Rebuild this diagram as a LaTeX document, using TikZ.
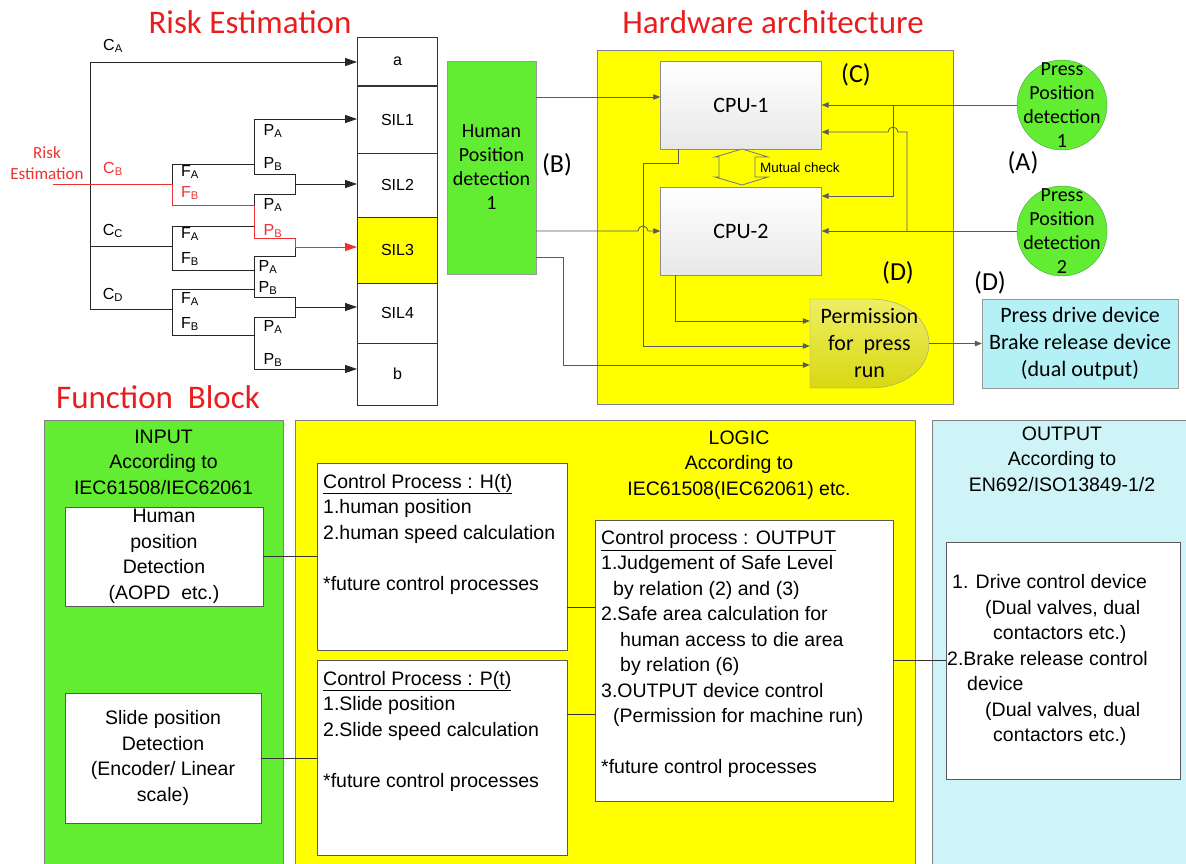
\documentclass[tikz,border=0pt]{standalone}
\usepackage{fontspec}
\setmainfont{Carlito}
\newfontfamily\gothic{Liberation Sans}
\usetikzlibrary{positioning,arrows.meta}
\definecolor{titlered}{RGB}{232,30,30}
\definecolor{riskred}{RGB}{238,50,50}
\definecolor{detgreen}{RGB}{98,236,50}
\definecolor{hwyellow}{RGB}{255,255,0}
\definecolor{outcyan}{RGB}{206,244,248}
\definecolor{devcyan}{RGB}{180,241,247}
\definecolor{wiregray}{RGB}{90,90,90}
\definecolor{framegray}{RGB}{128,128,150}
\definecolor{permlight}{RGB}{238,238,100}
\definecolor{permdark}{RGB}{216,216,18}
\tikzset{
  headline/.style={
    text=titlered,
    font=\fontsize{33}{36}\selectfont,
    inner sep=0pt
  },
  riskline/.style={draw=black!85, line width=0.9pt},
  riskarrow/.style={riskline, -{Triangle[length=12pt,width=8pt]}},
  redline/.style={draw=riskred, line width=0.9pt},
  redarrow/.style={redline, -{Triangle[length=12pt,width=8pt]}},
  risklbl/.style={font=\gothic\fontsize{16}{18}\selectfont, inner sep=0pt},
  silbox/.style={
    draw=black!80,
    line width=0.9pt,
    fill=white,
    minimum width=80pt,
    inner sep=0pt,
    font=\gothic\fontsize{16}{18}\selectfont
  },
  hwtext/.style={font=\fontsize{20}{24}\selectfont, align=center, inner sep=0pt},
  tag/.style={font=\fontsize{26}{30}\selectfont, inner sep=0pt},
  wire/.style={draw=wiregray, line width=0.8pt},
  wirearrow/.style={wire, -{Triangle[length=7pt,width=5.5pt]}},
  cpubox/.style={
    draw=black!45,
    top color=white,
    bottom color=black!9,
    minimum width=161pt,
    minimum height=88pt,
    font=\fontsize{22}{26}\selectfont
  },
  humanbox/.style={
    hwtext,
    draw=black!40,
    fill=detgreen,
    minimum width=89pt,
    minimum height=213pt
  },
  detcircle/.style={
    circle,
    draw=green!45!black!70,
    fill=detgreen,
    minimum size=90pt,
    inner sep=0pt
  },
  devbox/.style={
    hwtext,
    draw=black!40,
    fill=devcyan,
    minimum width=196pt,
    minimum height=89pt,
    font=\fontsize{22}{27}\selectfont
  },
  panel/.style={draw=black!50, line width=0.8pt, minimum height=446pt, inner sep=0pt},
  bodytext/.style={font=\gothic\fontsize{19.5}{25.5}\selectfont, align=left, inner sep=0pt},
  headtext/.style={bodytext, align=center},
  whitebox/.style={draw=black!65, line width=0.9pt, fill=white, inner sep=0pt},
  link/.style={draw=black!80, line width=0.9pt}
}
\begin{document}
\begin{tikzpicture}[x=1pt, y=-1pt]
  \useasboundingbox[fill=white] (0,0) rectangle (1186,863);

  % Titles
  \node[headline] (ttlrisk) at (250,22) {Risk Estimation};
  \node[headline] (ttlhw) at (773,22) {Hardware architecture};
  \node[headline] (ttlfb) at (158,397) {Function\ \ Block};

  % SIL column
  \node[silbox, minimum height=48pt] (a) at (397.5,61) {a};
  \node[silbox, minimum height=67pt] (sil1) at (397.5,119.5) {SIL1};
  \node[silbox, minimum height=64pt] (sil2) at (397.5,185) {SIL2};
  \node[silbox, minimum height=66pt, fill=hwyellow] (sil3) at (397.5,250) {SIL3};
  \node[silbox, minimum height=60pt] (sil4) at (397.5,313) {SIL4};
  \node[silbox, minimum height=62pt] (b) at (397.5,374) {b};

  % Risk graph
  \draw[riskline] (90,62) -- (90,309);
  \draw[riskarrow] (90,62) -- (a.west |- 0,62);
  \draw[riskline] (172,184) -- (172,164) -- (254,164);
  \draw[riskline] (254,119) -- (254,174) -- (295,174) -- (295,194) -- (254,194) -- (254,205);
  \draw[riskarrow] (254,119) -- (sil1.west |- 0,119);
  \draw[riskarrow] (295,184) -- (sil2.west |- 0,184);
  \draw[riskline] (90,246) -- (172,246);
  \draw[riskline] (254,226) -- (172,226) -- (172,270) -- (254,270);
  \draw[riskline] (295,247) -- (295,256) -- (254,256) -- (254,297) -- (295,297) -- (295,317) -- (254,317) -- (254,369);
  \draw[riskarrow] (295,307) -- (sil4.west |- 0,307);
  \draw[riskarrow] (254,369) -- (b.west |- 0,369);
  \draw[riskline] (90,309) -- (172,309);
  \draw[riskline] (254,289) -- (172,289) -- (172,335) -- (254,335);
  % red path
  \draw[redline] (53,184) -- (172,184) -- (172,205) -- (254,205) -- (254,238) -- (295,238) -- (295,247);
  \draw[redarrow] (295,247) -- (sil3.west |- 0,247);

  % Graph labels
  \node[risklbl, text=riskred, font=\fontsize{17}{21}\selectfont, align=center] (rin) at (47,163) {Risk\\Estimation};
  \node[risklbl] (lca) at (113,46) {C\textsubscript{A}};
  \node[risklbl, text=riskred] (lcb) at (113,169) {C\textsubscript{B}};
  \node[risklbl] (lcc) at (113,231) {C\textsubscript{C}};
  \node[risklbl] (lcd) at (113,295) {C\textsubscript{D}};
  \node[risklbl] (lfa1) at (190,172) {F\textsubscript{A}};
  \node[risklbl, text=riskred] (lfb1) at (190,193) {F\textsubscript{B}};
  \node[risklbl] (lfa2) at (190,234) {F\textsubscript{A}};
  \node[risklbl] (lfb2) at (190,259) {F\textsubscript{B}};
  \node[risklbl] (lfa3) at (190,299) {F\textsubscript{A}};
  \node[risklbl] (lfb3) at (190,324) {F\textsubscript{B}};
  \node[risklbl] (lpa1) at (273,131) {P\textsubscript{A}};
  \node[risklbl] (lpb1) at (273,164) {P\textsubscript{B}};
  \node[risklbl] (lpa2) at (273,205) {P\textsubscript{A}};
  \node[risklbl, text=riskred] (lpb2) at (273,231) {P\textsubscript{B}};
  \node[risklbl] (lpa3) at (268,267) {P\textsubscript{A}};
  \node[risklbl] (lpb3) at (268,288) {P\textsubscript{B}};
  \node[risklbl] (lpa4) at (273,327) {P\textsubscript{A}};
  \node[risklbl] (lpb4) at (273,360) {P\textsubscript{B}};

  % Hardware architecture
  \node[draw=framegray, fill=hwyellow, minimum width=356pt, minimum height=354pt] (hw) at (775,227) {};
  \node[humanbox] (hpd) at (491.5,167.5) {Human\\Position\\detection\\1};
  \node[tag] (tagb) at (557,165) {(B)};
  \node[cpubox] (cpu1) at (741,105) {CPU-1};
  \node[cpubox] (cpu2) at (741,231) {CPU-2};
  \node[tag] (tagc) at (856,75) {(C)};
  \node[detcircle, label={[hwtext]center:Press\\Position\\detection\\1}] (pp1) at (1062,105) {};
  \node[detcircle, label={[hwtext]center:Press\\Position\\detection\\2}] (pp2) at (1062,231) {};
  \node[tag] (taga) at (1023,163) {(A)};
  \node[tag] (tagd1) at (898,273) {(D)};
  \node[tag] (tagd2) at (990,283) {(D)};

  % Mutual check
  \draw[draw=black!55, fill=hwyellow, line width=0.8pt] (742,149) -- (768,157) -- (755,157) -- (755,177) -- (768,177) -- (742,185) -- (715,177) -- (719,177) -- (719,157) -- (715,157) -- cycle;
  \node[font=\gothic\fontsize{13.5}{16}\selectfont, anchor=west, inner sep=0pt] (mc) at (760,168) {Mutual check};

  % Permission gate
  \draw[draw=black!40, top color=permlight, bottom color=permdark] (810,299) -- (870,299) .. controls (906,299) and (929,320) .. (929,343.5) .. controls (929,367) and (906,388) .. (870,388) -- (810,388) -- cycle;
  \node[hwtext, font=\fontsize{22}{27}\selectfont, minimum width=119pt] (perm) at (869.5,343.5) {Permission\\for\ \ press\\run};
  \node[devbox] (dev) at (1080,343.5) {Press drive device\\Brake release device\\(dual output)};

  % Wires
  \draw[wirearrow] (hpd.east |- 0,97) -- (cpu1.west |- 0,97);
  \draw[wirearrow] (hpd.east |- 0,231) -- (638,231) arc[start angle=180, end angle=360, radius=5] -- (cpu2.west);
  \draw[wirearrow] (hpd.east |- 0,257) -- (563,257) -- (563,365) -- (perm.west |- 0,365);
  \draw[wirearrow] (cpu1.south -| 678,0) -- (678,163) -- (643,163) -- (643,346) -- (perm.west |- 0,346);
  \draw[wirearrow] (cpu2.south -| 675,0) -- (675,321) -- (perm.west |- 0,321);
  \draw[wirearrow] (pp1) -- (cpu1);
  \draw[wirearrow] (893,105) -- (893,196) -- (cpu2.east |- 0,196);
  \draw[wirearrow] (pp2) -- (cpu2);
  \draw[wirearrow] (907,231) -- (907,132) -- (898,132) arc[start angle=0, end angle=-180, radius=5] -- (cpu1.east |- 0,132);
  \draw[wirearrow] (perm.east) -- (dev.west);

  % Function block panels
  \node[panel, fill=detgreen, minimum width=239pt] (inpanel) at (163.5,643) {};
  \node[panel, fill=hwyellow, minimum width=620pt] (logicpanel) at (605,643) {};
  \node[panel, fill=outcyan, minimum width=262pt] (outpanel) at (1063,643) {};
  \node[headtext, below=10pt of inpanel.north] (inhead) {INPUT\\According to\\IEC61508/IEC62061};
  \node[headtext] (logichead) at (739,465) {LOGIC\\According to\\IEC61508(IEC62061) etc.};
  \node[headtext] (outhead) at (1062,459) {OUTPUT\\According to\\EN692/ISO13849-1/2};

  % Inputs
  \node[whitebox, headtext, minimum width=198pt, minimum height=99pt] (human) at (164,556.5) {Human\\position\\Detection\\(AOPD\ \ etc.)};
  \node[whitebox, headtext, minimum width=196pt, minimum height=130pt] (slide) at (163,758) {Slide position\\Detection\\(Encoder/ Linear\\scale)};

  % Logic
  \node[whitebox, minimum width=250pt, minimum height=187pt] (ht) at (442,556.5) {};
  \node[whitebox, minimum width=250pt, minimum height=195pt] (pt) at (442,757.5) {};
  \node[whitebox, minimum width=298pt, minimum height=281pt] (ctrl) at (744,660.5) {};
  \node[bodytext, anchor=west] (httext) at (323,534) {\underline{Control Process : H(t)}\\1.human position\\2.human speed calculation\\[25.5pt]*future control processes};
  \node[bodytext, anchor=west] (pttext) at (323,731) {\underline{Control Process : P(t)}\\1.Slide position\\2.Slide speed calculation\\[25.5pt]*future control processes};
  \node[bodytext, anchor=west] (ctrltext) at (601,654) {\underline{Control process : OUTPUT}\\1.Judgement of Safe Level\\\hspace*{12pt}by relation (2) and (3)\\2.Safe area calculation for\\\hspace*{19pt}human access to die area\\\hspace*{19pt}by relation (6)\\3.OUTPUT device control\\\hspace*{12pt}(Permission for machine run)\\[25.5pt]*future control processes};

  % Output
  \node[whitebox, minimum width=234pt, minimum height=237pt] (outdev) at (1063,660.5) {};
  \node[bodytext, anchor=west] (outtext) at (947,660) {\hspace*{5pt}1. Drive control device\\\hspace*{38pt}(Dual valves, dual\\\hspace*{46pt}contactors etc.)\\2.Brake release control\\\hspace*{20pt}device\\\hspace*{38pt}(Dual valves, dual\\\hspace*{46pt}contactors etc.)};

  % Links
  \draw[link] (human.east) -- (ht.west |- human.east);
  \draw[link] (slide.east) -- (pt.west |- slide.east);
  \draw[link] (ht.east |- 0,607) -- (ctrl.west |- 0,607);
  \draw[link] (pt.east |- 0,714) -- (ctrl.west |- 0,714);
  \draw[link] (ctrl.east) -- (outdev.west);
\end{tikzpicture}
\end{document}
